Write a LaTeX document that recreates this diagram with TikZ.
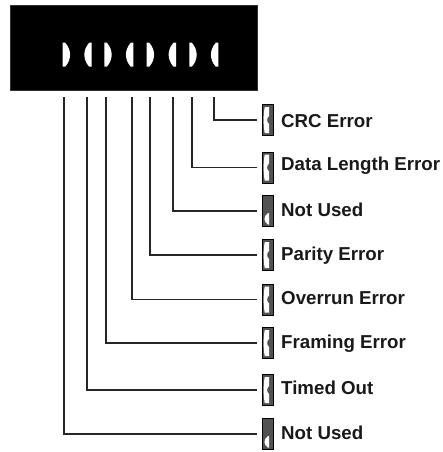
\documentclass[tikz,border=0pt]{standalone}
\usepackage{fontspec}
\setmainfont{Liberation Sans}
\begin{document}
\begin{tikzpicture}[x=1pt,y=-1pt,
  conn/.style={draw=black!85,line width=1.2pt,shorten >=5pt},
  iconbox/.style={draw=black,fill=black!68,line width=0.8pt,minimum width=11pt,minimum height=31pt,inner sep=0pt},
  lbl/.style={anchor=base west,inner sep=0pt,font=\fontsize{18.7}{20}\selectfont\bfseries,text=black!90},
  led/.style={fill=white,draw=none}]
\useasboundingbox (0,0) rectangle (442,452);
% display panel
\node[fill=black,draw=black!80,minimum width=247pt,minimum height=85pt,inner sep=0pt,anchor=north west] (bar) at (10,5) {};
% LEDs: D-shape (flat left) and mirrored
\foreach \l in {62.7,104.3,146.7,189.3}{
  \path[led] (\l,42.7) -- (\l+2.5,42.7) .. controls (\l+9,50) and (\l+9,59.4) .. (\l+2.5,66.7) -- (\l,66.7) -- cycle;}
\foreach \r in {91.7,133.3,176,218.3}{
  \path[led] (\r,42.7) -- (\r-2.5,42.7) .. controls (\r-9,50) and (\r-9,59.4) .. (\r-2.5,66.7) -- (\r,66.7) -- cycle;}
% connector tops
\foreach \n/\x in {1/214,2/192,3/173,4/150,5/132,6/106,7/87,8/64}{
  \coordinate (t\n) at (\x,97);}
% icons
\foreach \n/\y in {1/120,2/167.5,3/211,4/255,5/299.5,6/343,7/390,8/434}{
  \node[iconbox] (ic\n) at (267.5,\y) {};}
% inner white marks: error-type
\foreach \n in {1,2,4,5,6,7}{
  \begin{scope}[shift={(ic\n.center)}]
    \path[fill=white] (-2.8,-13) -- (1.5,-13) -- (1.5,-4) .. controls (-1,-2) and (-1,2) .. (1.5,4) -- (1.5,13) -- (-2.8,13) .. controls (-4.2,5) and (-4.2,-5) .. (-2.8,-13) -- cycle;
  \end{scope}}
% inner white marks: not used
\foreach \n in {3,8}{
  \begin{scope}[shift={(ic\n.center)}]
    \path[fill=white] (0.5,2) .. controls (-4.2,5) and (-4.2,11) .. (0.5,13.5) -- (1.5,13.5) -- (1.5,2) -- cycle;
  \end{scope}}
% connectors
\foreach \n in {1,...,8}{
  \draw[conn] (t\n) |- (ic\n.west);}
% labels
\node[lbl] (lab1) at (281,127) {CRC Error};
\node[lbl] (lab2) at (281,170.5) {Data Length Error};
\node[lbl] (lab3) at (281,216.5) {Not Used};
\node[lbl] (lab4) at (281,260) {Parity Error};
\node[lbl] (lab5) at (281,304.5) {Overrun Error};
\node[lbl] (lab6) at (281,348) {Framing Error};
\node[lbl] (lab7) at (281,394.5) {Timed Out};
\node[lbl] (lab8) at (281,439) {Not Used};
\end{tikzpicture}
\end{document}
